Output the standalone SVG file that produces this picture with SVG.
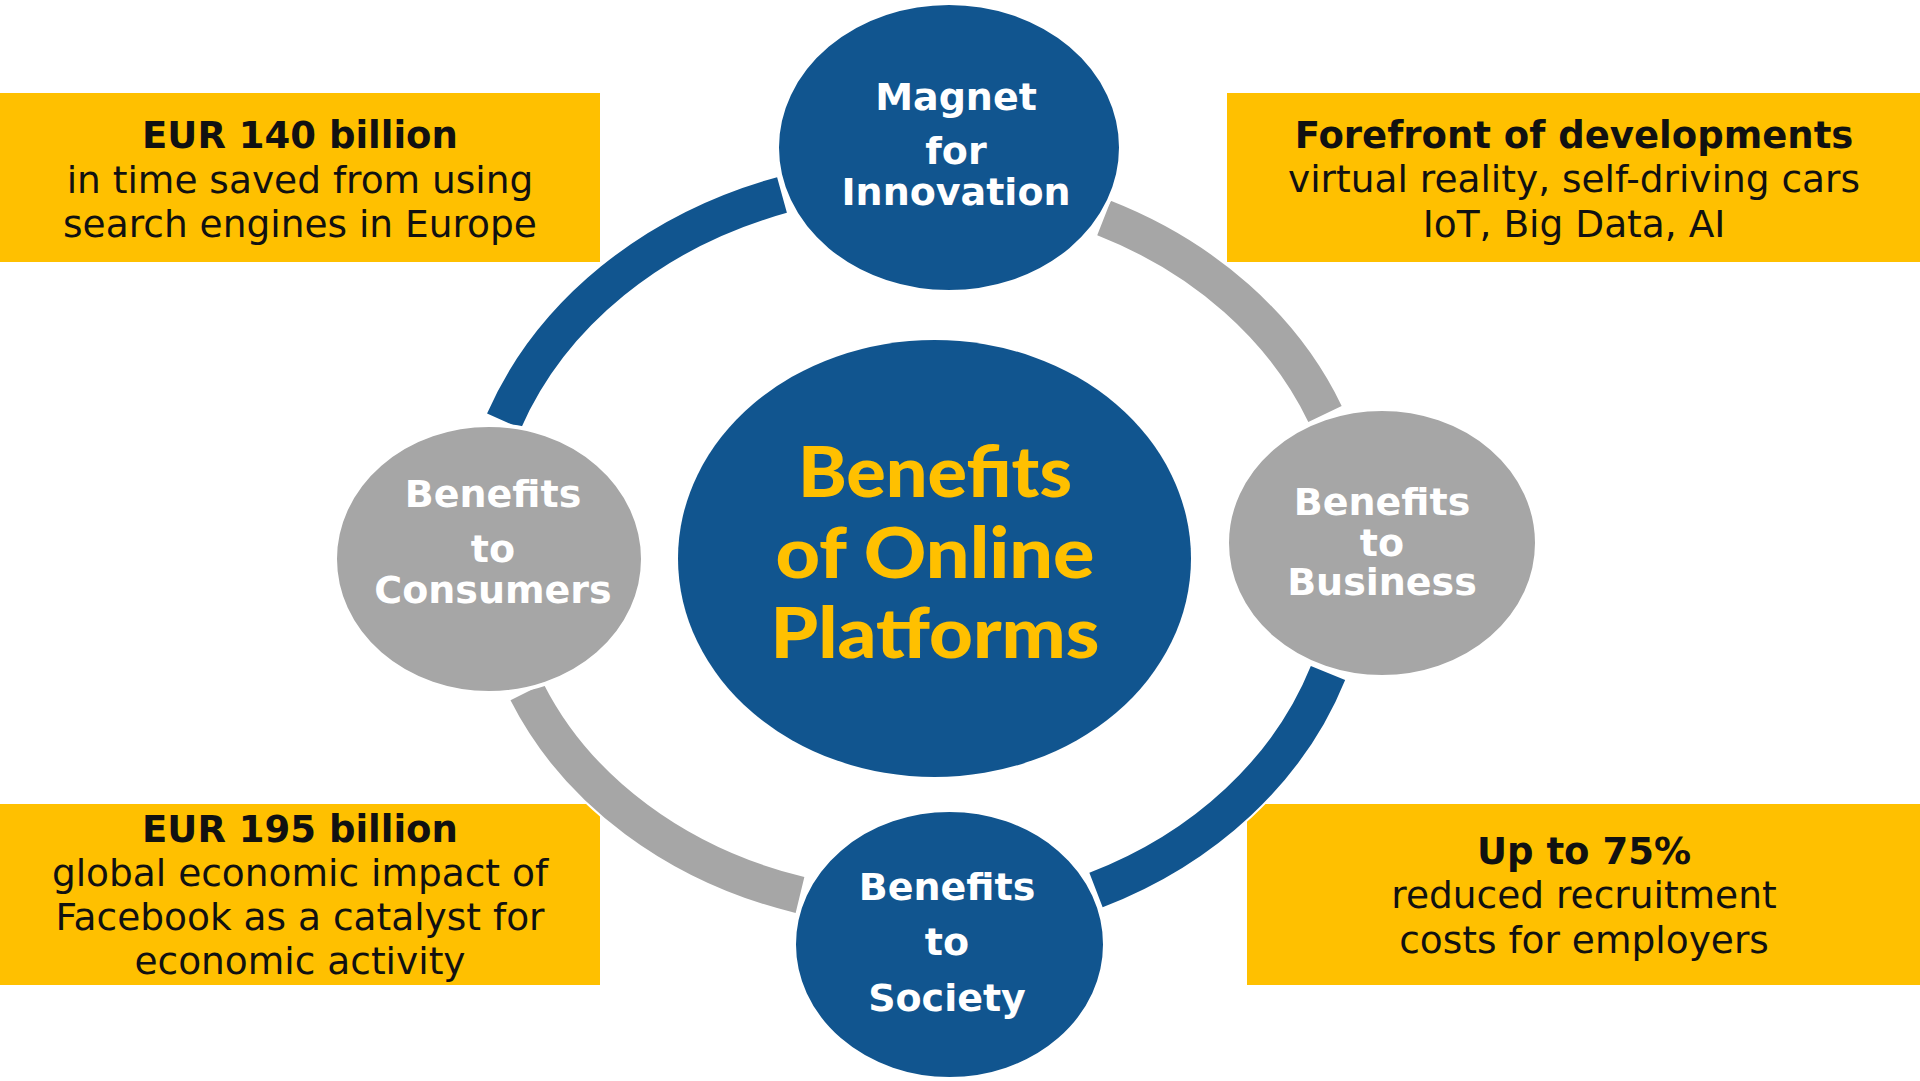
<svg xmlns="http://www.w3.org/2000/svg" width="1920" height="1081" viewBox="0 0 1920 1081">
<style>
.box{fill:#FFC000}
.bt{font-family:"DejaVu Sans","Verdana",sans-serif;font-size:37.5px;fill:#111111;text-anchor:middle}
.bb{font-weight:bold;font-size:37px}
.nt{font-family:"DejaVu Sans","Verdana",sans-serif;font-size:38px;font-weight:bold;fill:#FFFFFF;text-anchor:middle}
.blue{fill:#11558F;stroke:#FFFFFF;stroke-width:4}
.gray{fill:#A6A6A6;stroke:#FFFFFF;stroke-width:4}
.arcw{fill:none;stroke:#FFFFFF;stroke-width:41}
.arcb{fill:none;stroke:#11558F;stroke-width:37}
.arcg{fill:none;stroke:#A6A6A6;stroke-width:37}
.title{font-family:"Lato","DejaVu Sans",sans-serif;font-size:70px;font-weight:900;fill:#FFC000;text-anchor:middle}
</style>
<rect width="1920" height="1081" fill="#FFFFFF"/>
<g id="box-eur140">
<rect class="box" x="0" y="93" width="600" height="169"/>
<text class="bt bb" x="300" y="148">EUR 140 billion</text>
<text class="bt" x="300" y="193">in time saved from using</text>
<text class="bt" x="300" y="237">search engines in Europe</text>
</g>
<g id="box-forefront">
<rect class="box" x="1227" y="93" width="693" height="169"/>
<text class="bt bb" x="1574" y="148">Forefront of developments</text>
<text class="bt" x="1574" y="192">virtual reality, self-driving cars</text>
<text class="bt" x="1574" y="237">IoT, Big Data, AI</text>
</g>
<g id="box-eur195">
<rect class="box" x="0" y="804" width="600" height="181"/>
<text class="bt bb" x="300" y="842">EUR 195 billion</text>
<text class="bt" x="300" y="886">global economic impact of</text>
<text class="bt" x="300" y="930">Facebook as a catalyst for</text>
<text class="bt" x="300" y="974">economic activity</text>
</g>
<g id="box-75">
<rect class="box" x="1247" y="804" width="673" height="181"/>
<text class="bt bb" x="1584" y="864">Up to 75%</text>
<text class="bt" x="1584" y="908">reduced recruitment</text>
<text class="bt" x="1584" y="953">costs for employers</text>
</g>
<g id="connectors">
<path class="arcw" d="M504 421 A441.8 375.2 0 0 1 782 195"/>
<path class="arcw" d="M1104 218 A438.9 368.8 0 0 1 1325 414"/>
<path class="arcw" d="M1328 673 A433.8 370.6 0 0 1 1096 890"/>
<path class="arcw" d="M800 895 A425 357 0 0 1 527 692"/>
<path class="arcb" d="M504 421 A441.8 375.2 0 0 1 782 195"/>
<path class="arcg" d="M1104 218 A438.9 368.8 0 0 1 1325 414"/>
<path class="arcb" d="M1328 673 A433.8 370.6 0 0 1 1096 890"/>
<path class="arcg" d="M800 895 A425 357 0 0 1 527 692"/>
</g>
<g id="center">
<ellipse fill="#11558F" cx="934.5" cy="558.5" rx="256.5" ry="218.5"/>
<text class="title" x="935" y="497" textLength="274" lengthAdjust="spacingAndGlyphs">Benefits</text>
<text class="title" x="935" y="578" textLength="319" lengthAdjust="spacingAndGlyphs">of Online</text>
<text class="title" x="935" y="658" textLength="329" lengthAdjust="spacingAndGlyphs">Platforms</text>
</g>
<g id="node-innovation">
<ellipse class="blue" cx="949" cy="147.5" rx="172" ry="144.5"/>
<text class="nt" x="956" y="110">Magnet</text>
<text class="nt" x="956" y="164">for</text>
<text class="nt" x="956" y="205">Innovation</text>
</g>
<g id="node-consumers">
<ellipse class="gray" cx="489" cy="559" rx="154" ry="134"/>
<text class="nt" x="493" y="507">Benefits</text>
<text class="nt" x="493" y="562">to</text>
<text class="nt" x="493" y="603">Consumers</text>
</g>
<g id="node-business">
<ellipse class="gray" cx="1382" cy="543" rx="155" ry="134"/>
<text class="nt" x="1382" y="515">Benefits</text>
<text class="nt" x="1382" y="556">to</text>
<text class="nt" x="1382" y="595">Business</text>
</g>
<g id="node-society">
<ellipse class="blue" cx="949.5" cy="944.5" rx="155.5" ry="134.5"/>
<text class="nt" x="947" y="900">Benefits</text>
<text class="nt" x="947" y="955">to</text>
<text class="nt" x="947" y="1011">Society</text>
</g>
</svg>
